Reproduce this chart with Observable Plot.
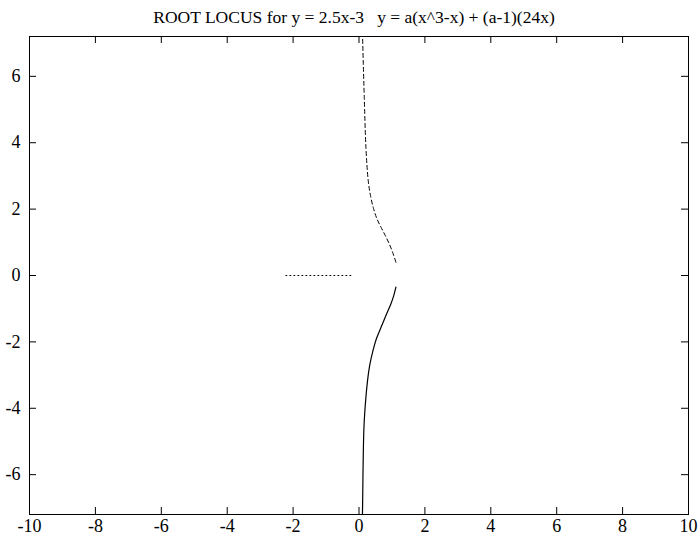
<!DOCTYPE html>
<html>
<head>
<meta charset="utf-8">
<script src="https://cdn.jsdelivr.net/npm/d3@7"></script>
<script src="https://cdn.jsdelivr.net/npm/@observablehq/plot@0.6"></script>
<style>
  html, body { margin: 0; padding: 0; background: #fff; }
  #title { font-family: "Liberation Serif", "Times New Roman", serif; font-size: 17.5px; height: 28px; line-height: 34px; text-align: center; white-space: pre; color: #000; padding-left: 8px; }
  #chart svg { display: block; }
  #chart svg text { font-family: "Liberation Serif", "Times New Roman", serif !important; }
</style>
</head>
<body>
<div id="title">ROOT LOCUS for y = 2.5x-3   y = a(x^3-x) + (a-1)(24x)</div>
<div id="chart"></div>
<script>
const xTicks = [-10, -8, -6, -4, -2, 0, 2, 4, 6, 8, 10];
const yTicks = [-6, -4, -2, 0, 2, 4, 6];

// upper branch (dashed)
const dashedX = [1.12, 1.02, 0.92, 0.80, 0.67, 0.54, 0.44, 0.35, 0.28, 0.21, 0.16, 0.13, 0.11, 0.10];
const dashedY = [0.40, 0.70, 0.95, 1.20, 1.45, 1.72, 2.02, 2.40, 2.86, 3.86, 5.37, 6.38, 7.13, 7.40];
// lower branch (solid)
const solidX = [1.12, 1.05, 0.97, 0.82, 0.67, 0.53, 0.43, 0.33, 0.26, 0.16, 0.13, 0.11, 0.10];
const solidY = [-0.35, -0.62, -0.85, -1.20, -1.56, -1.90, -2.24, -2.68, -3.16, -4.37, -5.37, -6.88, -7.40];
// real-axis branch (dotted)
const dottedX = [-2.22, -0.16];
const dottedY = [0, 0];

const toRows = (xs, ys) => xs.map((x, i) => ({x, y: ys[i]}));

const W = 700, H = 516;
const mt = 8, mb = 30, ml = 29, mr = 12;
const tick = 7;
const serif = "Liberation Serif";

const plot = Plot.plot({
  width: W,
  height: H,
  marginTop: mt,
  marginBottom: mb,
  marginLeft: ml,
  marginRight: mr,
  style: { fontFamily: serif, fontSize: "18px", color: "#000", background: "#fff" },
  x: { domain: [-10, 10], label: null },
  y: { domain: [-7.2, 7.2], label: null },
  marks: [
    Plot.axisX(xTicks, { anchor: "bottom", label: null, tickSize: 0, tickPadding: 5, tickFormat: d => String(d), fontSize: 18, fontFamily: serif }),
    Plot.axisY(yTicks, { anchor: "left", label: null, tickSize: 0, tickPadding: 9, tickFormat: d => String(d), fontSize: 18, fontFamily: serif }),
    Plot.tickX(xTicks.slice(1, -1), { x: d => d, insetTop: H - mt - mb - tick, stroke: "#000" }),
    Plot.tickX(xTicks.slice(1, -1), { x: d => d, insetBottom: H - mt - mb - tick, stroke: "#000" }),
    Plot.tickY(yTicks, { y: d => d, insetRight: W - ml - mr - tick, stroke: "#000" }),
    Plot.tickY(yTicks, { y: d => d, insetLeft: W - ml - mr - tick, stroke: "#000" }),
    Plot.line(toRows(dottedX, dottedY), { x: "x", y: "y", stroke: "#000", strokeWidth: 1, strokeDasharray: "1,3", clip: true }),
    Plot.line(toRows(dashedX, dashedY), { x: "x", y: "y", stroke: "#000", strokeWidth: 1, strokeDasharray: "4,3", curve: "catmull-rom", clip: true }),
    Plot.line(toRows(solidX, solidY), { x: "x", y: "y", stroke: "#000", strokeWidth: 1.2, curve: "catmull-rom", clip: true }),
    Plot.frame({ stroke: "#000", strokeWidth: 1 })
  ]
});
document.getElementById("chart").appendChild(plot);
// force style/layout so the serif face is applied to the svg text
plot.querySelectorAll("text").forEach(t => { t.style.fontFamily = "'Liberation Serif', 'Times New Roman', serif"; void getComputedStyle(t).fontFamily; });
void plot.getBoundingClientRect();
</script>
</body>
</html>
